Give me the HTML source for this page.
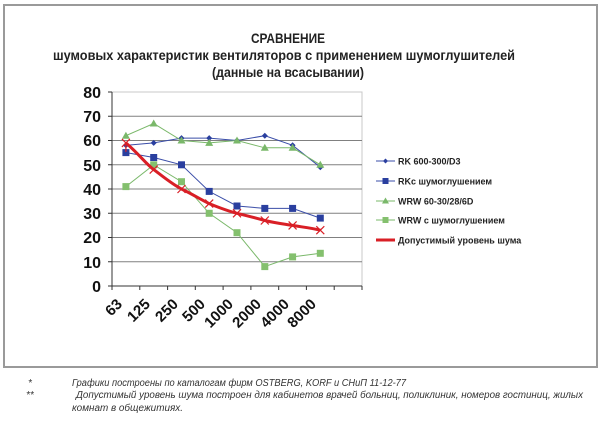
<!DOCTYPE html>
<html><head><meta charset="utf-8"><style>
body{margin:0;width:600px;height:420px;background:#fff;overflow:hidden}
</style></head><body>
<svg width="600" height="420" xmlns="http://www.w3.org/2000/svg" font-family="Liberation Sans, sans-serif">
<rect x="4" y="5" width="593" height="362" fill="#fff" stroke="#9a9a9a" stroke-width="2"/>
<g font-weight="bold" font-size="14" text-anchor="middle" fill="#222">
<text x="288" y="43" textLength="74" lengthAdjust="spacingAndGlyphs">СРАВНЕНИЕ</text>
<text x="284" y="60" textLength="462" lengthAdjust="spacingAndGlyphs">шумовых характеристик вентиляторов с применением шумоглушителей</text>
<text x="288" y="77" textLength="152" lengthAdjust="spacingAndGlyphs">(данные на всасывании)</text>
</g>
<rect x="112" y="92" width="250" height="194" fill="#fff" stroke="#c8c8c8" stroke-width="1"/>
<g stroke="#808080" stroke-width="1">
<line x1="112" y1="116.25" x2="362" y2="116.25"/>
<line x1="112" y1="140.5" x2="362" y2="140.5"/>
<line x1="112" y1="164.75" x2="362" y2="164.75"/>
<line x1="112" y1="189" x2="362" y2="189"/>
<line x1="112" y1="213.25" x2="362" y2="213.25"/>
<line x1="112" y1="237.5" x2="362" y2="237.5"/>
<line x1="112" y1="261.75" x2="362" y2="261.75"/>
</g>
<g stroke="#333" stroke-width="1">
<line x1="112" y1="92" x2="112" y2="290"/>
<line x1="108" y1="286" x2="362" y2="286"/>
<line x1="108" y1="92" x2="112" y2="92"/><line x1="108" y1="116.25" x2="112" y2="116.25"/><line x1="108" y1="140.5" x2="112" y2="140.5"/><line x1="108" y1="164.75" x2="112" y2="164.75"/><line x1="108" y1="189" x2="112" y2="189"/><line x1="108" y1="213.25" x2="112" y2="213.25"/><line x1="108" y1="237.5" x2="112" y2="237.5"/><line x1="108" y1="261.75" x2="112" y2="261.75"/>
<line x1="139.8" y1="286" x2="139.8" y2="290"/><line x1="167.6" y1="286" x2="167.6" y2="290"/><line x1="195.3" y1="286" x2="195.3" y2="290"/><line x1="223.1" y1="286" x2="223.1" y2="290"/><line x1="250.9" y1="286" x2="250.9" y2="290"/><line x1="278.7" y1="286" x2="278.7" y2="290"/><line x1="306.4" y1="286" x2="306.4" y2="290"/><line x1="334.2" y1="286" x2="334.2" y2="290"/><line x1="362" y1="286" x2="362" y2="290"/>
</g>
<g font-weight="bold" font-size="16" text-anchor="end" fill="#111">
<text x="101" y="98">80</text><text x="101" y="122">70</text><text x="101" y="146">60</text><text x="101" y="171">50</text><text x="101" y="195">40</text><text x="101" y="219">30</text><text x="101" y="243">20</text><text x="101" y="268">10</text><text x="101" y="292">0</text>
</g>
<g font-weight="bold" font-size="15" text-anchor="end" fill="#111">
<text transform="translate(123,305) rotate(-45)">63</text>
<text transform="translate(151,305) rotate(-45)">125</text>
<text transform="translate(179,305) rotate(-45)">250</text>
<text transform="translate(206,305) rotate(-45)">500</text>
<text transform="translate(234,305) rotate(-45)">1000</text>
<text transform="translate(262,305) rotate(-45)">2000</text>
<text transform="translate(290,305) rotate(-45)">4000</text>
<text transform="translate(317,305) rotate(-45)">8000</text>
</g>
<polyline fill="none" stroke="#3a4da8" stroke-width="1" points="125.9,145.3 153.7,142.9 181.5,138.1 209.2,138.1 237,140.5 264.8,135.7 292.6,145.3 320.3,167.2"/>
<g fill="#2a3f9f">
<path d="M125.9,142.3l3,3-3,3-3-3z"/><path d="M153.7,139.9l3,3-3,3-3-3z"/><path d="M181.5,135.1l3,3-3,3-3-3z"/><path d="M209.2,135.1l3,3-3,3-3-3z"/><path d="M237,137.5l3,3-3,3-3-3z"/><path d="M264.8,132.7l3,3-3,3-3-3z"/><path d="M292.6,142.3l3,3-3,3-3-3z"/><path d="M320.3,164.2l3,3-3,3-3-3z"/>
</g>
<polyline fill="none" stroke="#3a4da8" stroke-width="1" points="125.9,152.6 153.7,157.5 181.5,164.8 209.2,191.4 237,206 264.8,208.4 292.6,208.4 320.3,218.1"/>
<g fill="#2a3f9f">
<rect x="122.4" y="149.1" width="7" height="7"/><rect x="150.2" y="154" width="7" height="7"/><rect x="178" y="161.3" width="7" height="7"/><rect x="205.7" y="187.9" width="7" height="7"/><rect x="233.5" y="202.5" width="7" height="7"/><rect x="261.3" y="204.9" width="7" height="7"/><rect x="289.1" y="204.9" width="7" height="7"/><rect x="316.8" y="214.6" width="7" height="7"/>
</g>
<polyline fill="none" stroke="#7ab86a" stroke-width="1" points="125.9,135.7 153.7,123.5 181.5,140.5 209.2,142.9 237,140.5 264.8,147.8 292.6,147.8 320.3,164.8"/>
<g fill="#7ab86a">
<path d="M125.9,131.7l4,7h-8z"/><path d="M153.7,119.5l4,7h-8z"/><path d="M181.5,136.5l4,7h-8z"/><path d="M209.2,138.9l4,7h-8z"/><path d="M237,136.5l4,7h-8z"/><path d="M264.8,143.8l4,7h-8z"/><path d="M292.6,143.8l4,7h-8z"/><path d="M320.3,160.8l4,7h-8z"/>
</g>
<polyline fill="none" stroke="#7ab86a" stroke-width="1" points="125.9,186.6 153.7,164.8 181.5,181.7 209.2,213.3 237,232.7 264.8,266.6 292.6,256.9 320.3,253.3"/>
<g fill="#84c06e">
<rect x="122.4" y="183.1" width="7" height="7"/><rect x="150.2" y="161.3" width="7" height="7"/><rect x="178" y="178.2" width="7" height="7"/><rect x="205.7" y="209.8" width="7" height="7"/><rect x="233.5" y="229.2" width="7" height="7"/><rect x="261.3" y="263.1" width="7" height="7"/><rect x="289.1" y="253.4" width="7" height="7"/><rect x="316.8" y="249.8" width="7" height="7"/>
</g>
<path fill="none" stroke="#d91f26" stroke-width="3" d="M125.9,142.9 C140,155 145,163 153.7,169.6 C165,178 172,184 181.5,189 C192,194 200,199 209.2,203.6 C220,208 228,211 237,213.3 C248,216 256,218 264.8,220.5 C275,223 284,224 292.6,225.4 C302,227 311,228 320.3,230.2"/>
<g stroke="#d91f26" stroke-width="1.2">
<path d="M121.9,138.9l8,8m0-8l-8,8m4-5v10"/>
<path d="M149.7,165.6l8,8m0-8l-8,8"/><path d="M177.5,185l8,8m0-8l-8,8"/><path d="M205.2,199.6l8,8m0-8l-8,8"/><path d="M233,209.3l8,8m0-8l-8,8"/><path d="M260.8,216.5l8,8m0-8l-8,8"/><path d="M288.6,221.4l8,8m0-8l-8,8"/><path d="M316.3,226.2l8,8m0-8l-8,8"/>
</g>
<g font-weight="bold" font-size="9" fill="#222">
<line x1="376" y1="161" x2="395" y2="161" stroke="#3a4da8"/><path d="M385.5,158.5l2.5,2.5-2.5,2.5-2.5-2.5z" fill="#2a3f9f"/><text x="398" y="164.5">RK 600-300/D3</text>
<line x1="376" y1="181" x2="395" y2="181" stroke="#3a4da8"/><rect x="382.5" y="178" width="6" height="6" fill="#2a3f9f"/><text x="398" y="184.5">RKс шумоглушением</text>
<line x1="376" y1="201" x2="395" y2="201" stroke="#7ab86a"/><path d="M385.5,197.5l3.5,6h-7z" fill="#7ab86a"/><text x="398" y="204.5">WRW 60-30/28/6D</text>
<line x1="376" y1="220" x2="395" y2="220" stroke="#7ab86a"/><rect x="382.5" y="217" width="6" height="6" fill="#84c06e"/><text x="398" y="223.5">WRW с шумоглушением</text>
<line x1="376" y1="240" x2="395" y2="240" stroke="#d91f26" stroke-width="3"/><text x="398" y="243.5">Допустимый уровень шума</text>
</g>
<g font-style="italic" font-size="10" fill="#333">
<text x="28" y="386">*</text><text x="72" y="386" textLength="334" lengthAdjust="spacingAndGlyphs">Графики построены по каталогам фирм OSTBERG, KORF и СНиП 11-12-77</text>
<text x="26" y="398">**</text><text x="76" y="398" textLength="507" lengthAdjust="spacingAndGlyphs">Допустимый уровень шума построен для кабинетов врачей больниц, поликлиник, номеров гостиниц, жилых</text>
<text x="72" y="411" textLength="111" lengthAdjust="spacingAndGlyphs">комнат в общежитиях.</text>
</g>
</svg>
</body></html>
